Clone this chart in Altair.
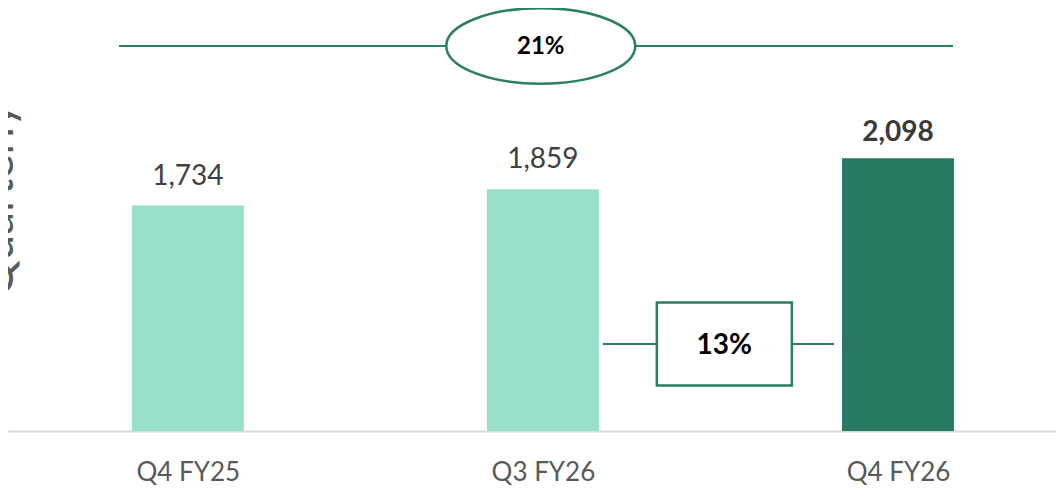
import altair as alt
import pandas as pd

# ---- data ----
categories = ["Q4 FY25", "Q3 FY26", "Q4 FY26"]
revenue = [1734, 1859, 2098]
period_type = ["prior", "prior", "current"]
yoy_growth = ["21%"]
qoq_growth = ["13%"]
axis_title = "Quarterly"

FONT = "Lato"
LIGHT = "#97E0CC"
DARK = "#267A64"
LINE = "#2B7D66"

df = pd.DataFrame({"idx": list(range(len(categories))), "quarter": categories,
                   "value": revenue, "ptype": period_type})
df["label"] = df["value"].map(lambda v: f"{v:,}")

W, H = 1048, 423
xscale = alt.Scale(domain=[-0.49233, 2.43097], nice=False, zero=False)
yscale = alt.Scale(domain=[0, 3254], nice=False, zero=True)

label_expr = "[" + ",".join(f"'{c}'" for c in categories) + "][datum.value]"
xaxis = alt.Axis(title=None, labelFontSize=26, labelColor="#595959", labelFont=FONT,
                 ticks=False, domainColor="#D9D9D9", domainWidth=2, labelPadding=28,
                 labelAngle=0, grid=False, values=list(range(len(categories))),
                 labelExpr=label_expr, labelFlush=False, labelOverlap=False)

base = alt.Chart(df)

bars = base.mark_bar(size=112).encode(
    x=alt.X("idx:Q", scale=xscale, axis=xaxis),
    y=alt.Y("value:Q", scale=yscale, axis=None),
    color=alt.Color("ptype:N", scale=alt.Scale(domain=["prior", "current"], range=[LIGHT, DARK]), legend=None),
)

lbl_prior = base.transform_filter(alt.datum.ptype == "prior").mark_text(
    fontSize=28, font=FONT, color="#404040", baseline="alphabetic", dy=-21
).encode(x=alt.X("idx:Q", scale=xscale), y=alt.Y("value:Q", scale=yscale), text="label:N")

lbl_cur = base.transform_filter(alt.datum.ptype == "current").mark_text(
    fontSize=28, font=FONT, fontWeight="bold", color="#3A3A3A", baseline="alphabetic", dy=-17
).encode(x=alt.X("idx:Q", scale=xscale), y=alt.Y("value:Q", scale=yscale), text="label:N")

# YoY annotation (ellipse across the top) -- positions in category-index units
yoy_df = pd.DataFrame({"start": [-0.194], "mid": [0.994], "end": [2.155], "y": [2962], "txt": yoy_growth})
yoy_line = alt.Chart(yoy_df).mark_rule(color=LINE, strokeWidth=2).encode(
    x=alt.X("start:Q", scale=xscale), x2="end:Q", y=alt.Y("y:Q", scale=yscale))
ELLIPSE = "M -1 0 A 1 0.4 0 1 1 1 0 A 1 0.4 0 1 1 -1 0 Z"
yoy_shape = alt.Chart(yoy_df).mark_point(shape=ELLIPSE, size=189 ** 2, filled=True, fill="white",
                                         stroke=LINE, strokeWidth=2.5, opacity=1, fillOpacity=1,
                                         strokeOpacity=1).encode(
    x=alt.X("mid:Q", scale=xscale), y=alt.Y("y:Q", scale=yscale))
yoy_text = alt.Chart(yoy_df).mark_text(fontSize=24, font=FONT, fontWeight="bold", color="black",
                                       baseline="middle", dy=1).encode(
    x=alt.X("mid:Q", scale=xscale), y=alt.Y("y:Q", scale=yscale), text="txt:N")

# QoQ annotation (box between last two bars)
qoq_df = pd.DataFrame({"start": [1.169], "mid": [1.511], "end": [1.820], "y": [670], "txt": qoq_growth})
qoq_line = alt.Chart(qoq_df).mark_rule(color=LINE, strokeWidth=2).encode(
    x=alt.X("start:Q", scale=xscale), x2="end:Q", y=alt.Y("y:Q", scale=yscale))
BOX = "M -1 -0.615 L 1 -0.615 L 1 0.615 L -1 0.615 Z"
qoq_shape = alt.Chart(qoq_df).mark_point(shape=BOX, size=135 ** 2, filled=True, fill="white",
                                         stroke=LINE, strokeWidth=2.5, opacity=1, fillOpacity=1,
                                         strokeOpacity=1).encode(
    x=alt.X("mid:Q", scale=xscale), y=alt.Y("y:Q", scale=yscale))
qoq_text = alt.Chart(qoq_df).mark_text(fontSize=28, font=FONT, fontWeight="bold", color="black",
                                       baseline="middle", dy=2).encode(
    x=alt.X("mid:Q", scale=xscale), y=alt.Y("y:Q", scale=yscale), text="txt:N")

# clipped vertical axis title on the far left
title_df = pd.DataFrame({"t": [axis_title]})
ytitle = alt.Chart(title_df).mark_text(angle=270, fontSize=46, font=FONT, color="#595959",
                                       baseline="alphabetic", align="center").encode(
    x=alt.value(5), y=alt.value(192), text="t:N")

chart = alt.layer(bars, lbl_prior, lbl_cur, yoy_line, yoy_shape, yoy_text,
                  qoq_line, qoq_shape, qoq_text, ytitle).properties(
    width=W, height=H,
    padding={"left": 0, "top": 0, "right": 0, "bottom": 60},
    autosize=alt.AutoSizeParams(type="none"),
).configure_view(stroke=None)

chart.save("out.html", embed_options={"renderer": "svg", "actions": False})
